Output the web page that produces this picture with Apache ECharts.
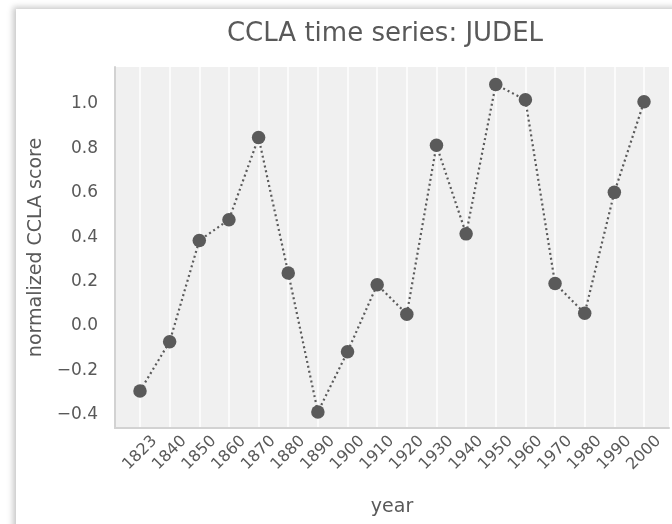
<!DOCTYPE html>
<html>
<head>
<meta charset="utf-8">
<script src="https://cdn.jsdelivr.net/npm/echarts@6/dist/echarts.min.js"></script>
<style>
  html, body { margin: 0; padding: 0; background: #fff; width: 672px; height: 524px; overflow: hidden; }
  #card { position: absolute; left: 16px; top: 9px; width: 720px; height: 560px; background: #fff;
          box-shadow: -3px -2px 6px rgba(0,0,0,0.22); }
  #chart { position: absolute; left: 0; top: 0; width: 672px; height: 524px; }
</style>
</head>
<body>
<div id="card"></div>
<div id="chart"></div>
<script>
const years = ['1823','1840','1850','1860','1870','1880','1890','1900','1910','1920','1930','1940','1950','1960','1970','1980','1990','2000'];
const scores = [-0.293, -0.071, 0.385, 0.479, 0.849, 0.239, -0.388, -0.116, 0.186, 0.053, 0.814, 0.415, 1.088, 1.019, 0.191, 0.057, 0.602, 1.010];
const yTicks = [-0.4, -0.2, 0.0, 0.2, 0.4, 0.6, 0.8, 1.0];

const FONT = 'DejaVu Sans';
const TXT = '#595959';
const yMin = -0.46, yMax = 1.167;

const chart = echarts.init(document.getElementById('chart'), null, { renderer: 'canvas' });
chart.setOption({
  animation: false,
  backgroundColor: 'transparent',
  title: {
    text: 'CCLA time series: JUDEL',
    left: 380, top: 16, textAlign: 'center',
    textStyle: { fontFamily: FONT, fontSize: 26, fontWeight: 'normal', color: TXT }
  },
  grid: [
    { left: 115, right: 3, top: 67, bottom: 96, show: true, backgroundColor: '#f0f0f0', borderWidth: 0 },
    { left: 140, right: 28, top: 67, bottom: 96 }
  ],
  xAxis: [
    { gridIndex: 0, type: 'value', min: 0, max: 1,
      axisLine: { show: true, onZero: false, lineStyle: { color: '#d2d2d2', width: 2 } },
      axisTick: { show: false }, axisLabel: { show: false }, splitLine: { show: false },
      name: 'year', nameLocation: 'middle', nameGap: 70,
      nameTextStyle: { fontFamily: FONT, fontSize: 19, color: TXT } },
    { gridIndex: 1, type: 'category', data: years, boundaryGap: false,
      axisLine: { show: false }, axisTick: { show: false },
      splitLine: { show: true, interval: 0, lineStyle: { color: '#ffffff', width: 1.5 } },
      axisLabel: { interval: 0, rotate: 45, align: 'center', verticalAlign: 'middle', margin: 25,
                   fontFamily: FONT, fontSize: 16, color: TXT } }
  ],
  yAxis: [
    { gridIndex: 0, type: 'value', min: yMin, max: yMax,
      axisLine: { show: true, onZero: false, lineStyle: { color: '#d2d2d2', width: 2 } },
      axisTick: { show: false, customValues: yTicks }, splitLine: { show: false },
      axisLabel: { customValues: yTicks, margin: 17, fontFamily: FONT, fontSize: 17, color: TXT,
                   formatter: v => v.toFixed(1).replace('-', '\u2212') },
      name: 'normalized CCLA score', nameLocation: 'middle', nameGap: 63, nameRotate: 90,
      nameTextStyle: { fontFamily: FONT, fontSize: 19, color: TXT } },
    { gridIndex: 1, type: 'value', min: yMin, max: yMax, show: false }
  ],
  series: [{
    type: 'line', xAxisIndex: 1, yAxisIndex: 1, data: scores,
    symbol: 'circle', symbolSize: 13.5,
    itemStyle: { color: '#5a5a5a' },
    lineStyle: { color: '#5a5a5a', width: 2.2, type: [2, 3] },
    z: 5
  }]
});
</script>
</body>
</html>
